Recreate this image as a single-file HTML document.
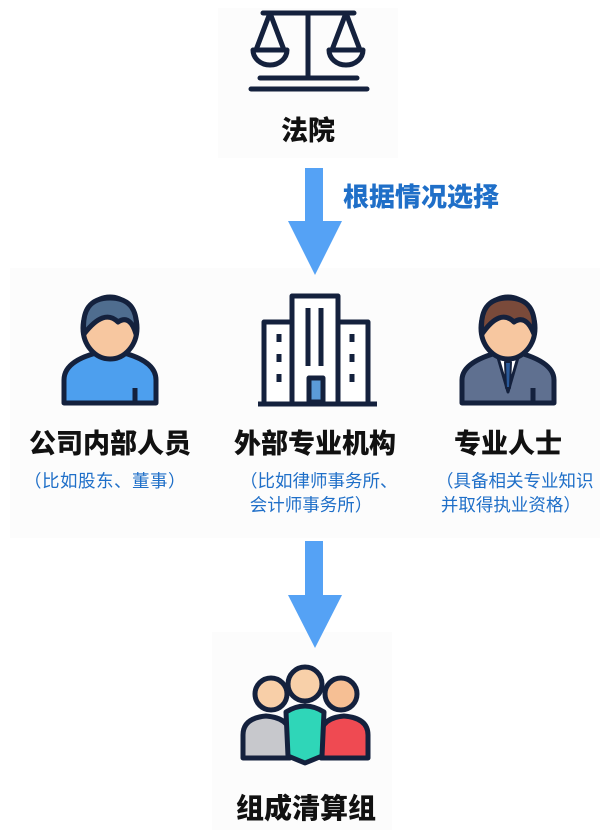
<!DOCTYPE html>
<html><head><meta charset="utf-8"><style>
body{margin:0;width:610px;height:830px;background:#fff;overflow:hidden;position:relative;font-family:"Liberation Sans","Noto Sans CJK SC",sans-serif}
.t{position:absolute;white-space:nowrap;text-align:center}
.h{font-weight:900;color:#111;font-size:27px;line-height:32px}
.s{color:#1f6fc8;font-size:17.5px;line-height:24px}
</style></head><body>
<div style="position:absolute;left:218px;top:8px;width:180px;height:150px;background:#fcfcfc"></div>
<div style="position:absolute;left:10px;top:268px;width:590px;height:270px;background:#fcfcfc"></div>
<div style="position:absolute;left:212px;top:632px;width:180px;height:198px;background:#fcfcfc"></div>
<svg width="610" height="830" style="position:absolute;left:0;top:0">
<g stroke="#14213d" stroke-width="5" fill="none" stroke-linecap="round" stroke-linejoin="round">
<line x1="263" y1="13" x2="354" y2="13"/>
<line x1="308" y1="13" x2="308" y2="78"/>
<line x1="260" y1="78" x2="357" y2="78"/>
<line x1="251" y1="89" x2="367" y2="89"/>
<path d="M270 13 L256 50 M270 13 L284 50"/>
<path d="M346 13 L332 50 M346 13 L360 50"/>
<path d="M253 50 H287 A17 15 0 0 1 253 50 Z"/>
<path d="M329 50 H363 A17 15 0 0 1 329 50 Z"/>
</g>
<g fill="#55a2f5">
<rect x="305" y="168" width="18" height="54"/><polygon points="288,221 342,221 315,275"/>
<rect x="305" y="541" width="18" height="55"/><polygon points="288,595 342,595 315,648"/>
</g>
<g stroke="#14213d" stroke-width="5" stroke-linejoin="round">
<path d="M64 403 V380 Q64 358 110 350 Q156 358 156 380 V403 Z" fill="#4d9fee"/>
<ellipse cx="110" cy="328" rx="27" ry="31" fill="#f7c7a0"/>
<path d="M84 334 Q80 298 110 298 Q140 298 136 334 Q130 314 118 322 Q104 308 84 334Z" fill="#4f6d8f"/>
<line x1="135" y1="388" x2="135" y2="403"/>
</g>
<g stroke="#14213d" stroke-width="5" stroke-linejoin="round" fill="#fff">
<rect x="292" y="296" width="46" height="108"/>
<rect x="264" y="322" width="28" height="82"/>
<rect x="338" y="322" width="30" height="82"/>
<line x1="258" y1="404" x2="377" y2="404"/>
<rect x="309" y="378" width="14" height="24" fill="#5b9bd8"/>
</g>
<g stroke="#14213d" stroke-width="5">
<line x1="308" y1="308" x2="308" y2="366"/><line x1="321" y1="308" x2="321" y2="366"/>
<line x1="279" y1="334" x2="279" y2="342"/><line x1="279" y1="354" x2="279" y2="362"/><line x1="279" y1="374" x2="279" y2="382"/>
<line x1="352" y1="334" x2="352" y2="342"/><line x1="352" y1="354" x2="352" y2="362"/><line x1="352" y1="374" x2="352" y2="382"/>
</g>
<g stroke="#14213d" stroke-width="5" stroke-linejoin="round">
<path d="M462 403 V380 Q462 360 508 350 Q554 360 554 380 V403 Z" fill="#5f7090"/>
<path d="M497 354 L508 392 L519 354 Z" fill="#fff" stroke-width="3"/>
<path d="M505 362 H511 L510 388 H506Z" fill="#2a5a9a" stroke-width="2"/>
<ellipse cx="508" cy="328" rx="27" ry="31" fill="#f7c7a0"/>
<path d="M482 334 Q478 298 508 298 Q538 298 534 334 Q526 314 514 322 Q500 308 482 334Z" fill="#7a4a3a"/>
<line x1="533" y1="388" x2="533" y2="403"/>
</g>
<g stroke="#14213d" stroke-width="5" stroke-linejoin="round">
<path d="M243 758 V735 Q243 718 266 716 Q290 718 290 735 V758 Z" fill="#c7c8cc"/>
<path d="M321 758 V735 Q321 718 344 716 Q368 718 368 735 V758 Z" fill="#ef4a52"/>
<path d="M286 712 Q305 700 324 712 L322 756 L305 763 L288 756 Z" fill="#2fd6b8"/>
<circle cx="271" cy="694" r="16" fill="#f8cfa8"/>
<circle cx="341" cy="694" r="16" fill="#f6bf94"/>
<circle cx="305" cy="684" r="17" fill="#f8d0a9"/>
</g>
</svg>
<div class="t h" style="left:258px;top:115px;width:100px">法院</div>
<div class="t" style="left:343px;top:177px;font-size:26px;font-weight:900;color:#1f6fc8">根据情况选择</div>
<div class="t h" style="left:10px;top:428px;width:200px">公司内部人员</div>
<div class="t h" style="left:215px;top:428px;width:200px">外部专业机构</div>
<div class="t h" style="left:428px;top:428px;width:160px">专业人士</div>
<div class="t s" style="left:24px;top:469px;letter-spacing:0.5px">（比如股东、董事）</div>
<div class="t s" style="left:240px;top:469px;text-align:left">（比如律师事务所、<br>&nbsp;&nbsp;会计师事务所）</div>
<div class="t s" style="left:436px;top:469px;text-align:left">（具备相关专业知识<br>&nbsp;并取得执业资格）</div>
<div class="t h" style="left:206px;top:793px;width:200px;font-size:28px">组成清算组</div>
</body></html>
